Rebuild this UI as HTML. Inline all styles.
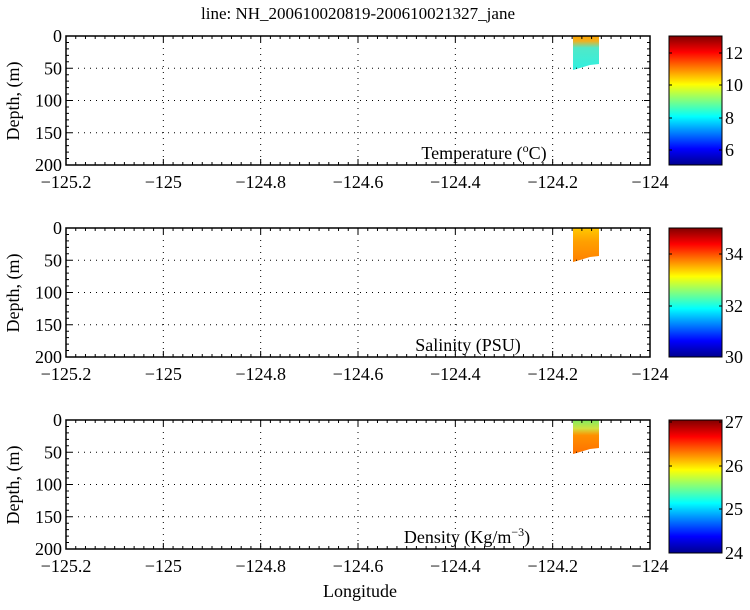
<!DOCTYPE html>
<html><head><meta charset="utf-8"><style>
body{margin:0;background:#fff}
text{font-family:"Liberation Serif","Times New Roman",serif;fill:#000}
</style></head><body>
<svg id="s" width="750" height="605" xmlns="http://www.w3.org/2000/svg" font-family="Liberation Serif, serif">
<defs>
<linearGradient id="jet" x1="0" y1="1" x2="0" y2="0">
<stop offset="0" stop-color="#00008f"/>
<stop offset="0.125" stop-color="#0000ff"/>
<stop offset="0.375" stop-color="#00ffff"/>
<stop offset="0.625" stop-color="#ffff00"/>
<stop offset="0.875" stop-color="#ff0000"/>
<stop offset="1" stop-color="#800000"/>
</linearGradient>
<linearGradient id="g1" x1="0" y1="0" x2="0" y2="1">
<stop offset="0" stop-color="#ffa500"/><stop offset="0.15" stop-color="#f0b020"/><stop offset="0.35" stop-color="#50e8c8"/><stop offset="1" stop-color="#30f0e0"/>
</linearGradient>
<linearGradient id="g2" x1="0" y1="0" x2="0" y2="1">
<stop offset="0" stop-color="#ffc800"/><stop offset="0.4" stop-color="#ffa000"/><stop offset="1" stop-color="#ff8000"/>
</linearGradient>
<linearGradient id="g3" x1="0" y1="0" x2="0" y2="1">
<stop offset="0" stop-color="#80ee60"/><stop offset="0.25" stop-color="#d0e040"/><stop offset="0.45" stop-color="#ff9000"/><stop offset="1" stop-color="#ff7000"/>
</linearGradient>
</defs>
<text x="358" y="19" font-size="17" text-anchor="middle" font-family="Liberation Serif, serif">line: NH_200610020819-200610021327_jane</text>
</svg>
<script>
const s=document.getElementById('s');const NS='http://www.w3.org/2000/svg';
function el(t,a,txt){const e=document.createElementNS(NS,t);for(const k in a)e.setAttribute(k,a[k]);if(t=='text')e.setAttribute('font-family','Liberation Serif, serif');if(txt!==undefined)e.innerHTML=txt;s.appendChild(e);return e;}
const L=66,R=650,W=R-L,FS=18;
const panels=[
 {top:36,lab:'Temperature (<tspan baseline-shift="super" font-size="12">o</tspan>C)',lx:484,g:'g1',cb:[[12,53],[10,85],[8,118],[6,150]]},
 {top:228,lab:'Salinity (PSU)',lx:468,g:'g2',cb:[[34,254],[32,306],[30,357]]},
 {top:420,lab:'Density (Kg/m<tspan baseline-shift="super" font-size="12">−3</tspan>)',lx:467,g:'g3',cb:[[27,422],[26,466],[25,509],[24,553]]}
];
const xs=v=>L+(v+125.2)/1.2*W;
panels.forEach((p,i)=>{
 const T=p.top,B=T+129,H=129;
 el('path',{d:`M573 ${T} L599 ${T} L599 ${T+28} L590 ${T+29} L580 ${T+32} L573 ${T+34} Z`,fill:`url(#${p.g})`});
 for(let k=1;k<6;k++){const x=xs(-125.2+0.2*k);el('line',{x1:x,y1:T,x2:x,y2:B,stroke:'#000','stroke-width':1,'stroke-dasharray':'1 5'});}
 for(let k=1;k<4;k++){const y=T+H*k/4;el('line',{x1:L,y1:y,x2:R,y2:y,stroke:'#000','stroke-width':1,'stroke-dasharray':'1 5'});}
 let d='';
 for(let k=0;k<=60;k++){const x=L+W*k/60;const len=k%10==0?6:3;d+=`M${x} ${T}v${len}M${x} ${B}v${-len}`;}
 for(let k=0;k<=20;k++){const y=T+H*k/20;const len=k%5==0?6:3;d+=`M${L} ${y}h${len}M${R} ${y}h${-len}`;}
 el('path',{d,stroke:'#000','stroke-width':1,fill:'none'});
 el('rect',{x:L,y:T,width:W,height:H,fill:'none',stroke:'#000','stroke-width':1.5});
 [0,50,100,150,200].forEach((v,k)=>el('text',{x:L-4,y:T+H*k/4+6,'font-size':FS,'text-anchor':'end'},v));
 ['−125.2','−125','−124.8','−124.6','−124.4','−124.2','−124'].forEach((t,k)=>el('text',{x:L+W*k/6,y:B+23,'font-size':FS,'text-anchor':'middle'},t));
 el('text',{x:19,y:T+65,'font-size':FS,'text-anchor':'middle',transform:`rotate(-90 19 ${T+65})`},'Depth, (m)');
 el('text',{x:p.lx,y:B-6,'font-size':FS,'text-anchor':'middle'},p.lab);
 el('rect',{x:669,y:T,width:53,height:H+(i==2?4:0),fill:'url(#jet)',stroke:'#000','stroke-width':1});
 p.cb.forEach(([v,y])=>{el('line',{x1:669,y1:y,x2:672,y2:y,stroke:'#000'});el('line',{x1:719,y1:y,x2:722,y2:y,stroke:'#000'});el('text',{x:725,y:y+6,'font-size':FS},v);});
});
el('text',{x:360,y:597,'font-size':FS,'text-anchor':'middle'},'Longitude');
</script>
</body></html>
